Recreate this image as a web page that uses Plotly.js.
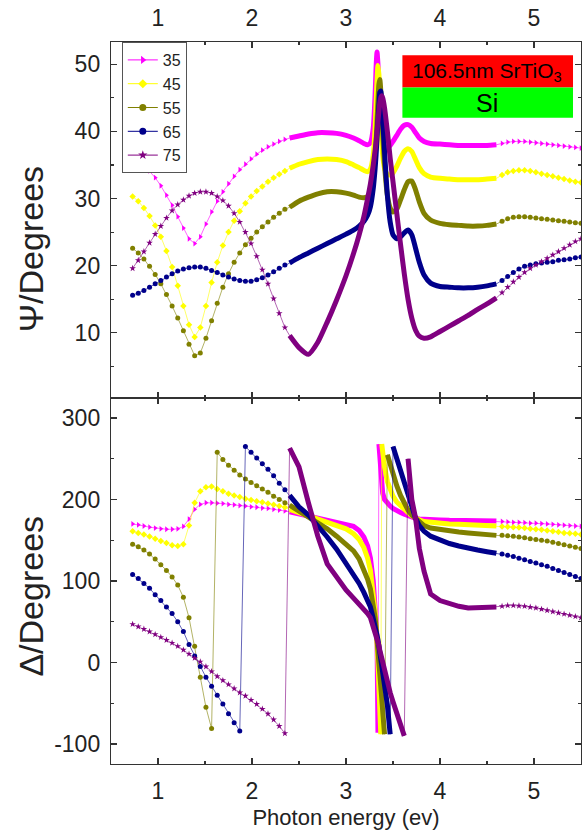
<!DOCTYPE html>
<html><head><meta charset="utf-8">
<script src="https://cdn.plot.ly/plotly-3.0.1.min.js"></script>
<style>html,body{margin:0;padding:0;background:#fff;}#chart{width:582px;height:830px;}</style>
</head><body><div id="chart"></div>
<script>
// ---------- data ----------
const angles = ["35", "45", "55", "65", "75"];
const xTicks = [1, 2, 3, 4, 5];
const psiTicks = [10, 20, 30, 40, 50];
const deltaTicks = [-100, 0, 100, 200, 300];
const deltaTickText = ["-100", "0", "100", "200", "300"];

// photon energy (eV): sparse low range, dense mid range, sparse tail
const xLo = [0.73, 0.79, 0.85, 0.91, 0.97, 1.03, 1.09, 1.15, 1.21, 1.27, 1.33, 1.39, 1.45, 1.51, 1.57, 1.63, 1.69, 1.75, 1.81, 1.87, 1.93, 1.99, 2.05, 2.11, 2.17, 2.23, 2.29, 2.35];
const xMid = [2.40, 2.50, 2.60, 2.70, 2.80, 2.90, 3.00, 3.08, 3.14, 3.19, 3.23, 3.26, 3.29, 3.31, 3.32, 3.33, 3.34, 3.35, 3.36, 3.37, 3.38, 3.39, 3.41, 3.44, 3.47, 3.50, 3.54, 3.58, 3.62, 3.66, 3.70, 3.74, 3.78, 3.83, 3.90, 4.00, 4.10, 4.20, 4.30, 4.40, 4.50, 4.60];
const xHi = [4.66, 4.72, 4.78, 4.84, 4.90, 4.96, 5.02, 5.08, 5.14, 5.20, 5.26, 5.32, 5.38, 5.44, 5.50];

// Psi (degrees)
const psi35Lo = [36.4, 35.8, 35.0, 34.1, 33.1, 31.9, 30.5, 29.0, 27.3, 25.6, 24.0, 23.3, 24.3, 26.2, 28.0, 29.6, 31.0, 32.2, 33.3, 34.3, 35.1, 35.9, 36.6, 37.2, 37.7, 38.1, 38.5, 38.8];
const psi45Lo = [30.3, 29.6, 28.6, 27.4, 26.0, 24.3, 22.2, 19.8, 17.0, 14.0, 11.2, 9.4, 10.8, 14.0, 17.5, 20.5, 23.0, 25.0, 26.7, 28.1, 29.3, 30.3, 31.1, 31.8, 32.5, 33.1, 33.6, 34.1];
const psi55Lo = [22.6, 21.9, 21.0, 19.9, 18.7, 17.3, 15.7, 14.0, 12.2, 10.3, 8.3, 6.6, 7.0, 9.2, 11.8, 14.4, 16.8, 18.8, 20.5, 21.9, 23.1, 24.1, 25.0, 25.8, 26.5, 27.2, 27.8, 28.4];
const psi65Lo = [15.6, 15.9, 16.3, 16.8, 17.3, 17.8, 18.3, 18.8, 19.2, 19.5, 19.7, 19.8, 19.8, 19.6, 19.3, 19.0, 18.6, 18.3, 18.0, 17.8, 17.7, 17.7, 17.9, 18.2, 18.6, 19.1, 19.6, 20.1];
const psi75Lo = [19.6, 20.8, 22.1, 23.4, 24.7, 25.9, 27.1, 28.2, 29.1, 29.8, 30.4, 30.8, 31.0, 31.0, 30.8, 30.3, 29.7, 28.9, 27.8, 26.5, 25.0, 23.3, 21.4, 19.4, 17.3, 15.1, 12.9, 10.8];

const psi35Mid = [39.0, 39.3, 39.6, 39.8, 39.8, 39.7, 39.4, 39.0, 38.6, 38.2, 38.0, 38.3, 40.5, 45.5, 49.5, 51.8, 50.0, 46.5, 43.0, 40.5, 39.0, 38.3, 37.8, 37.6, 37.9, 38.5, 39.4, 40.3, 40.9, 41.0, 40.6, 39.8, 39.0, 38.5, 38.2, 38.1, 38.0, 37.9, 37.9, 37.9, 37.9, 38.0];
const psi45Mid = [34.5, 35.1, 35.5, 35.8, 35.9, 35.8, 35.5, 35.0, 34.6, 34.2, 34.0, 34.4, 36.5, 40.5, 44.0, 47.5, 49.8, 48.5, 45.0, 41.5, 38.5, 36.5, 34.5, 33.6, 33.5, 33.8, 34.8, 36.0, 37.0, 37.4, 37.0, 35.8, 34.6, 33.7, 33.2, 33.0, 32.9, 32.8, 32.8, 32.8, 32.9, 33.0];
const psi55Mid = [28.7, 29.6, 30.2, 30.7, 31.0, 31.0, 30.8, 30.5, 30.2, 30.1, 30.3, 31.0, 33.0, 36.0, 38.5, 41.5, 44.5, 47.0, 47.7, 46.0, 43.0, 40.0, 35.0, 30.5, 28.6, 28.0, 28.4, 29.8, 31.3, 32.5, 32.6, 31.3, 29.5, 27.8, 26.8, 26.3, 26.1, 26.0, 25.9, 25.9, 26.0, 26.2];
const psi65Mid = [20.4, 21.2, 21.9, 22.6, 23.3, 24.0, 24.7, 25.3, 25.9, 26.6, 27.5, 28.8, 31.5, 34.5, 36.5, 39.0, 41.5, 44.0, 45.8, 46.0, 44.5, 42.0, 37.0, 30.5, 26.5, 24.6, 24.0, 24.3, 24.9, 25.3, 24.6, 22.6, 20.5, 18.6, 17.4, 16.9, 16.8, 16.7, 16.7, 16.8, 17.0, 17.3];
const psi75Mid = [9.6, 7.8, 6.8, 8.6, 11.6, 14.9, 18.5, 21.8, 24.6, 27.3, 30.0, 32.2, 35.0, 37.2, 38.5, 40.0, 41.5, 43.0, 44.2, 45.0, 45.3, 45.0, 43.5, 40.0, 36.0, 32.5, 27.8, 23.2, 18.8, 15.0, 12.2, 10.4, 9.5, 9.2, 9.4, 10.2, 11.0, 11.8, 12.6, 13.5, 14.3, 15.2];

const psi35Hi = [38.2, 38.4, 38.5, 38.5, 38.5, 38.4, 38.3, 38.2, 38.1, 38.0, 37.9, 37.8, 37.7, 37.6, 37.5];
const psi45Hi = [33.5, 33.9, 34.1, 34.2, 34.2, 34.1, 33.9, 33.7, 33.5, 33.3, 33.1, 32.9, 32.7, 32.5, 32.4];
const psi55Hi = [26.6, 27.0, 27.2, 27.3, 27.3, 27.2, 27.1, 27.0, 26.9, 26.8, 26.7, 26.6, 26.5, 26.4, 26.3];
const psi65Hi = [17.8, 18.4, 19.0, 19.5, 19.9, 20.1, 20.3, 20.4, 20.5, 20.6, 20.8, 20.9, 21.0, 21.2, 21.3];
const psi75Hi = [16.0, 16.8, 17.6, 18.3, 19.0, 19.6, 20.1, 20.6, 21.1, 21.6, 22.1, 22.6, 23.1, 23.6, 24.0];

// Delta (degrees)
const d35Lo = [170, 169, 167.5, 166, 165, 164, 163.5, 163.5, 164, 167, 176, 188, 194, 196, 196, 195.5, 195, 194, 193.5, 192.5, 192, 191, 190.5, 189.5, 189, 188, 187, 186];
const d45Lo = [161, 159, 157, 154.5, 152, 149, 146.5, 144, 143, 145, 168, 196, 210, 215, 216, 213, 210, 207, 205, 203, 201, 199.5, 198, 196.5, 195, 193.5, 192, 190.5];
const d55Lo = [145, 142, 138, 133, 127, 120, 113, 105, 95, 80, 55, 20, -18, -55, -81, 258, 249, 242, 236, 230, 225, 221, 217, 213, 209, 204, 200, 196];
const d65Lo = [108, 103, 97, 91, 83, 76, 68, 60, 50, 38, 22, 8, -5, -18, -29, -40, -51, -63, -74, -84, 265, 258, 251, 244, 237, 229, 220, 212];
const d75Lo = [47, 44, 41, 38, 34.5, 31, 27.5, 24, 20, 15.5, 10.5, 5.5, 1, -5, -11, -17, -22, -27, -32, -37, -41, -46, -51, -57, -63, -70, -78, -87];

const d35Mid = [185, 182.5, 179, 176, 174, 172, 170, 167, 162, 154, 143, 128, 100, 72, 52, 31, -86, 268, 248, 230, 217, 208, 200, 195, 192, 189, 186, 184, 182, 180, 178.5, 177, 176, 175.5, 175, 175, 174.5, 174.5, 174, 174, 173.5, 173.5];
const d45Mid = [188, 184, 179, 175, 171.5, 168, 164, 158, 151, 141, 128, 113, 88, 62, 47, 31, 1, -29, -58, -88, 268, 255, 240, 222, 212, 204, 197, 192, 188, 184, 180, 177, 175, 173, 172, 171, 170, 169.5, 169, 168.5, 168, 167.5];
const d55Mid = [193, 186, 179.5, 172, 164, 155, 146, 137, 127, 114, 102, 90, 72, 55, 43, 31, 16, 1, -14, -29, -44, -59, -88, 255, 242, 230, 217, 205, 195, 187, 181, 177, 172, 168, 165, 163, 161.5, 160, 159, 158, 157, 156];
const d65Mid = [205, 191, 181, 168, 154, 139, 122, 108, 97, 86, 76, 68, 54, 45, 40, 35, 28, 20, 12, 4, -4, -12, -28, -52, -88, 265, 250, 236, 221, 206, 192, 177, 168, 161, 155, 150, 146, 143, 140, 138, 136, 134];
const d75Mid = [263, 240, 196, 155, 121, 104, 89, 79, 72, 66, 60, 55, 45, 38, 35, 31, 26, 21, 15, 10, 5, 0, -11, -25, -37, -48, -62, -76, -90, 250, 200, 177, 140, 112, 84, 76, 72, 69, 67, 67, 67.5, 68];

const d35Hi = [173, 172.5, 172, 172, 171.5, 171, 171, 170.5, 170, 169.5, 169, 168.5, 168, 167.5, 167];
const d45Hi = [167, 166.5, 166, 165.5, 165, 164, 163.5, 163, 162, 161, 160, 159, 158.5, 158, 157];
const d55Hi = [156, 155.5, 155, 154, 153, 152, 151, 150, 149, 147.5, 146, 144.5, 143, 141.5, 140];
const d65Hi = [133, 131.5, 130, 128, 126, 124, 122, 120, 118, 115.5, 113, 110.5, 108, 105.5, 103];
const d75Hi = [69, 70, 70, 69.5, 69, 68, 67, 65.5, 64, 62.5, 61, 59.5, 58, 56.5, 55];

// ---------- styling ----------
const colors = ["#FF00FF", "#FFFF00", "#808000", "#00008B", "#800080"];
const symbols = ["triangle-right", "diamond", "circle", "circle", "star"];
const FONT = "Liberation Sans, Arial, Helvetica, sans-serif";

const psiSets = [[psi35Lo, psi35Mid, psi35Hi], [psi45Lo, psi45Mid, psi45Hi], [psi55Lo, psi55Mid, psi55Hi], [psi65Lo, psi65Mid, psi65Hi], [psi75Lo, psi75Mid, psi75Hi]];
const dSets = [[d35Lo, d35Mid, d35Hi], [d45Lo, d45Mid, d45Hi], [d55Lo, d55Mid, d55Hi], [d65Lo, d65Mid, d65Hi], [d75Lo, d75Mid, d75Hi]];

const traces = [];
function addPanel(sets, xa, ya, shape) {
  sets.forEach((s, i) => {
    const [lo, mid, hi] = s;
    // thin connecting line through all points
    traces.push({x: xLo.concat(xMid, xHi), y: lo.concat(mid, hi), xaxis: xa, yaxis: ya,
      mode: "lines", line: {color: colors[i], width: 1}, opacity: 0.6, showlegend: false, hoverinfo: "skip"});
    // markers on the sparse ranges
    traces.push({x: xLo.concat(xHi), y: lo.concat(hi), xaxis: xa, yaxis: ya,
      mode: "markers", marker: {color: colors[i], size: 5, symbol: symbols[i], line: {width: 0}},
      showlegend: false, hoverinfo: "skip"});
    // dense range drawn as a thick band, broken at phase wraps
    const tx = [], ty = [];
    mid.forEach((v, k) => {
      if (k > 0 && Math.abs(v - mid[k - 1]) > 150) { tx.push(null); ty.push(null); }
      tx.push(xMid[k]); ty.push(v);
    });
    traces.push({x: tx, y: ty, xaxis: xa, yaxis: ya, mode: "lines", connectgaps: false,
      line: {color: colors[i], width: 5, shape: shape, smoothing: 0.6}, showlegend: false, hoverinfo: "skip"});
  });
}
addPanel(psiSets, "x", "y", "spline");
addPanel(dSets, "x2", "y2", "linear");
// legend entries
angles.forEach((a, i) => {
  traces.push({x: [null], y: [null], xaxis: "x", yaxis: "y", name: a, mode: "lines+markers",
    line: {color: colors[i], width: 1}, marker: {color: colors[i], size: 7, symbol: symbols[i]}});
});

const axisCommon = {
  showline: true, linecolor: "#333", linewidth: 1.2, mirror: "ticks",
  ticks: "inside", ticklen: 6, tickwidth: 1.2, tickcolor: "#333",
  showgrid: false, zeroline: false,
  tickfont: {family: FONT, size: 23, color: "#222"}
};
const H_BOT = 0.5069;
const layout = {
  width: 582, height: 830,
  margin: {l: 111, r: 1, t: 42, b: 66},
  paper_bgcolor: "#fff", plot_bgcolor: "#fff",
  showlegend: true,
  legend: {x: 0.023, y: 1, xanchor: "left", yanchor: "top", bgcolor: "#fff",
    bordercolor: "#555", borderwidth: 1, font: {family: FONT, size: 16, color: "#222"},
    tracegroupgap: 0, itemwidth: 30},
  xaxis: Object.assign({}, axisCommon, {domain: [0, 1], anchor: "y", side: "top", range: [0.5, 5.5],
    tickmode: "array", tickvals: xTicks, ticklabelstandoff: 6,
    minor: {ticks: "inside", ticklen: 3, tickmode: "linear", tick0: 0.5, dtick: 1, tickcolor: "#333"}}),
  xaxis2: Object.assign({}, axisCommon, {domain: [0, 1], anchor: "y2", side: "bottom", range: [0.5, 5.5],
    tickmode: "array", tickvals: xTicks, ticklabelstandoff: 6,
    minor: {ticks: "inside", ticklen: 3, tickmode: "linear", tick0: 0.5, dtick: 1, tickcolor: "#333"},
    title: {text: "Photon energy (ev)", font: {family: FONT, size: 22, color: "#222"}, standoff: 6}}),
  yaxis: Object.assign({}, axisCommon, {domain: [H_BOT, 1], anchor: "x", range: [0.3, 53.3],
    tickmode: "array", tickvals: psiTicks, ticklabelstandoff: 5,
    minor: {ticks: "inside", ticklen: 3, tickmode: "linear", tick0: 0, dtick: 5, tickcolor: "#333"}}),
  yaxis2: Object.assign({}, axisCommon, {domain: [0, H_BOT], anchor: "x2", range: [-124.5, 324.5],
    tickmode: "array", tickvals: deltaTicks, ticktext: deltaTickText, ticklabelstandoff: 5,
    minor: {ticks: "inside", ticklen: 3, tickmode: "linear", tick0: 0, dtick: 50, tickcolor: "#333"}}),
  shapes: [
    {type: "rect", xref: "x domain", yref: "y domain", x0: 0.62, x1: 0.983, y0: 0.872, y1: 0.963,
      fillcolor: "#FF0000", line: {width: 0}, layer: "above"},
    {type: "rect", xref: "x domain", yref: "y domain", x0: 0.62, x1: 0.983, y0: 0.787, y1: 0.872,
      fillcolor: "#00FF00", line: {width: 0}, layer: "above"}
  ],
  annotations: [
    {xref: "x domain", yref: "y domain", x: 0.80, y: 0.917, text: "106.5nm SrTiO<sub>3</sub>",
      showarrow: false, font: {family: FONT, size: 21, color: "#000"}, xanchor: "center", yanchor: "middle"},
    {xref: "x domain", yref: "y domain", x: 0.80, y: 0.829, text: "Si",
      showarrow: false, font: {family: FONT, size: 25, color: "#000"}, xanchor: "center", yanchor: "middle"},
    {xref: "paper", yref: "paper", x: -0.170, y: 0.713, text: "Ψ/Degrees", textangle: -90,
      showarrow: false, font: {family: FONT, size: 34, color: "#222"}, xanchor: "center", yanchor: "middle"},
    {xref: "paper", yref: "paper", x: -0.170, y: 0.232, text: "Δ/Degrees", textangle: -90,
      showarrow: false, font: {family: FONT, size: 34, color: "#222"}, xanchor: "center", yanchor: "middle"}
  ]
};
Plotly.newPlot("chart", traces, layout, {displayModeBar: false, staticPlot: true});
</script>
</body></html>
